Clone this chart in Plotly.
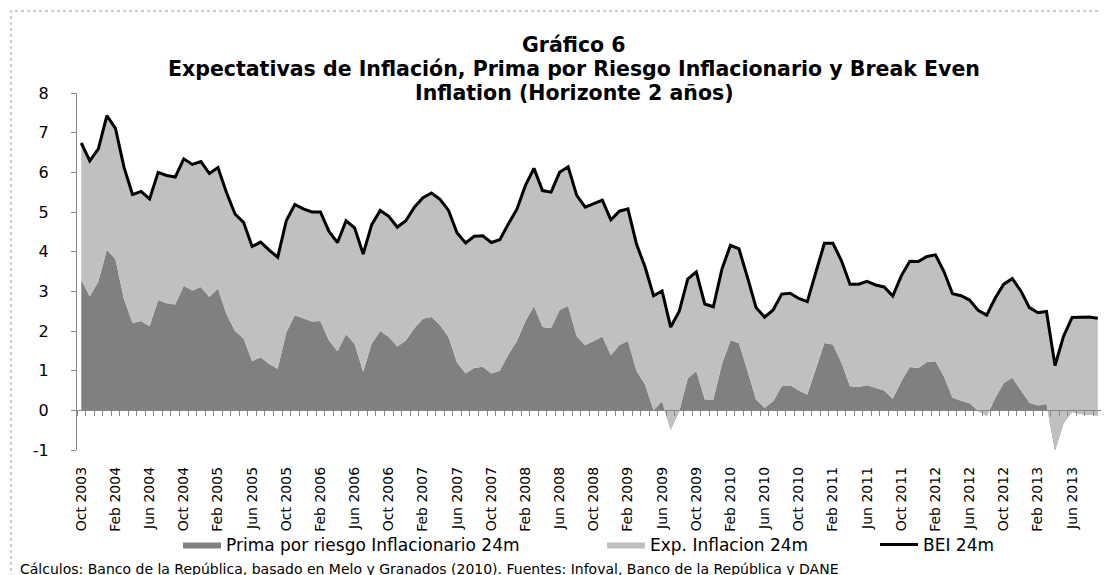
import plotly.graph_objects as go
import pandas as pd

# monthly series, Oct 2003 - Sep 2013
months = pd.date_range("2003-10-01", periods=120, freq="MS").strftime("%b %Y").tolist()

prima = [3.29, 2.87, 3.25, 4.05, 3.81, 2.80, 2.20, 2.25, 2.12, 2.78, 2.70, 2.67, 3.14, 3.02, 3.11, 2.86, 3.07, 2.42, 2.00, 1.81, 1.24,
         1.34, 1.17, 1.05, 1.96, 2.40, 2.32, 2.24, 2.25, 1.76, 1.49, 1.92, 1.68, 0.97, 1.68, 2.00, 1.85, 1.61, 1.76, 2.07, 2.31,
         2.35, 2.15, 1.85, 1.20, 0.93, 1.07, 1.10, 0.93, 1.00, 1.41, 1.75, 2.25, 2.63, 2.10, 2.07, 2.53, 2.63, 1.87, 1.64, 1.75, 1.86,
         1.39, 1.65, 1.75, 1.00, 0.65, 0.00, 0.23, -0.49, -0.03, 0.80, 0.99, 0.27, 0.27, 1.16, 1.76, 1.70, 0.99, 0.27, 0.06, 0.23,
         0.61, 0.63, 0.50, 0.40, 1.05, 1.70, 1.66, 1.20, 0.61, 0.59, 0.63, 0.57, 0.50, 0.29, 0.73, 1.09, 1.07, 1.22, 1.24, 0.85, 0.32,
         0.24, 0.18, -0.01, -0.15, 0.31, 0.69, 0.82, 0.52, 0.19, 0.12, 0.16, -1.02, -0.32, -0.04, -0.09, -0.11, -0.13]

bei = [6.74, 6.29, 6.59, 7.43, 7.11, 6.13, 5.44, 5.52, 5.33, 6.00, 5.92, 5.88, 6.34, 6.20, 6.27, 5.97, 6.12, 5.49, 4.95, 4.74, 4.13,
       4.24, 4.04, 3.86, 4.78, 5.19, 5.08, 5.00, 5.00, 4.51, 4.23, 4.78, 4.60, 3.94, 4.68, 5.04, 4.89, 4.62, 4.78, 5.12, 5.36,
       5.48, 5.32, 5.04, 4.47, 4.22, 4.39, 4.40, 4.23, 4.30, 4.70, 5.07, 5.67, 6.10, 5.54, 5.50, 6.00, 6.14, 5.42, 5.12, 5.21, 5.30,
       4.80, 5.02, 5.08, 4.19, 3.62, 2.89, 3.01, 2.10, 2.49, 3.31, 3.49, 2.68, 2.61, 3.56, 4.16, 4.07, 3.35, 2.59, 2.35, 2.53,
       2.93, 2.95, 2.82, 2.74, 3.48, 4.21, 4.21, 3.77, 3.18, 3.18, 3.25, 3.16, 3.11, 2.88, 3.39, 3.76, 3.75, 3.88, 3.92, 3.50, 2.94,
       2.89, 2.78, 2.52, 2.40, 2.83, 3.18, 3.32, 3.01, 2.59, 2.46, 2.49, 1.13, 1.87, 2.34, 2.34, 2.35, 2.32]

# expectations = BEI - risk premium (stacked on top of the premium)
exp_inf = [round(b - p, 2) for b, p in zip(bei, prima)]

title_lines = ["Gráfico 6",
               "Expectativas de Inflación, Prima por Riesgo Inflacionario y Break Even",
               "Inflation (Horizonte 2 años)"]
y_ticks = list(range(-1, 9))

x = list(range(len(months)))
font = "DejaVu Sans"

# plot area in pixels
L, R, T, B = 69, 15, 85, 133
W, H = 1109, 575
pw, ph = W - L - R, H - T - B
def px(v):
    return (v - L) / pw
def py(v):
    return (H - B - v) / ph

fig = go.Figure()
fig.add_trace(go.Scatter(x=x, y=prima, name="Prima por riesgo Inflacionario 24m", stackgroup="s",
                         mode="lines", line=dict(width=0, color="#808080"), fillcolor="#808080", legend="legend"))
fig.add_trace(go.Scatter(x=x, y=exp_inf, name="Exp. Inflacion 24m", stackgroup="s",
                         mode="lines", line=dict(width=0, color="#C0C0C0"), fillcolor="#C0C0C0", legend="legend2"))
fig.add_trace(go.Scatter(x=x, y=bei, name="BEI 24m", mode="lines",
                         line=dict(width=3, color="black"), legend="legend3"))

leg = dict(y=py(537), xanchor="left", yanchor="middle", font=dict(size=17), itemwidth=38,
           bgcolor="rgba(0,0,0,0)")

fig.update_layout(
    width=W, height=H,
    margin=dict(l=L, r=R, t=T, b=B),
    plot_bgcolor="white", paper_bgcolor="white",
    font=dict(family=font, color="black"),
    xaxis=dict(range=[-0.5, 119.5], tickvals=x[::4], ticktext=months[::4], tickangle=-90,
               tickfont=dict(size=14), ticks="", showgrid=False, zeroline=False, automargin=False,
               showline=True, linecolor="#868686", linewidth=1,
               anchor="free", position=1 / 9, ticklabelstandoff=50,
               minor=dict(ticks="outside", tick0=-0.5, dtick=1, ticklen=5, tickcolor="#868686", showgrid=False)),
    yaxis=dict(range=[-1, 8], tickvals=y_ticks, ticktext=[str(v) for v in y_ticks],
               showgrid=False, zeroline=False, automargin=False,
               showline=True, linecolor="#868686", linewidth=1,
               ticks="outside", ticklen=5, tickcolor="#868686", tickfont=dict(size=16),
               ticklabelstandoff=19),
    legend=dict(x=px(170), **leg),
    legend2=dict(x=px(594), **leg),
    legend3=dict(x=px(867), **leg),
    showlegend=True,
)

for line, yy in zip(title_lines, [37, 61, 85]):
    fig.add_annotation(text="<b>" + line + "</b>", xref="paper", yref="paper", x=px(566), y=py(yy),
                       xanchor="center", yanchor="middle", showarrow=False, font=dict(size=20.5))

fig.add_annotation(text="Cálculos: Banco de la República, basado en Melo y Granados (2010). Fuentes: Infoval, Banco de la República y DANE",
                   xref="paper", yref="paper", x=px(10), y=py(561), xanchor="left", yanchor="middle",
                   showarrow=False, font=dict(size=14))

# dotted frame around the chart
fig.add_shape(type="rect", xref="paper", yref="paper", x0=px(3), x1=px(1105), y0=py(572), y1=py(3),
              line=dict(color="#999999", width=1, dash="dot"), layer="below")

fig.write_html("out.html")
